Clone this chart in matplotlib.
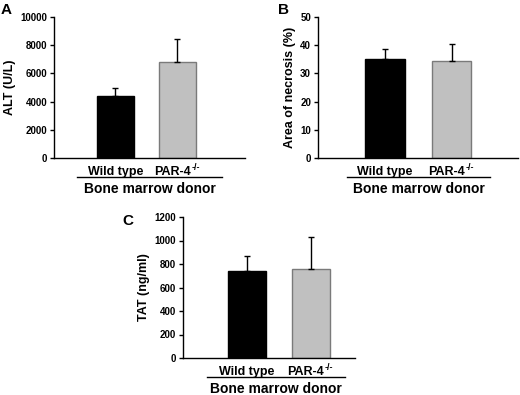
import matplotlib
matplotlib.use('Agg')
from matplotlib import pyplot as plt
from matplotlib.transforms import ScaledTranslation

plt.rcParams['font.family'] = ['Liberation Sans', 'DejaVu Sans']
plt.rcParams['font.weight'] = 'bold'

groups = ['Wild type', 'PAR-4']
group_sup = ['', '-/-']
donor_label = 'Bone marrow donor'

alt_mean = [4400, 6800]
alt_err = [600, 1650]

necrosis_mean = [35.1, 34.5]
necrosis_err = [3.6, 5.9]

tat_mean = [740, 757]
tat_err = [125, 275]

bar_colors = ['#000000', '#c0c0c0']
edge_colors = ['#000000', '#7a7a7a']


def draw_panel(rect, means, errs, ylabel, yticks, xlim, letter, letter_xy, line_x):
    ax = fig.add_axes(rect)
    x = [0, 1]
    ax.bar(x, means, width=0.6, color=bar_colors, edgecolor=edge_colors, linewidth=1)
    ax.errorbar(x, means, yerr=[[0, 0], errs], fmt='none', ecolor='black',
                elinewidth=1, capsize=2, capthick=1)
    ax.set_ylim(yticks[0], yticks[-1])
    ax.set_yticks(yticks)
    ax.set_xlim(*xlim)
    ax.set_xticks([])
    ax.tick_params(axis='y', length=3, width=1, labelsize=7, pad=2)
    ax.spines['top'].set_visible(False)
    ax.spines['right'].set_visible(False)
    ax.spines['left'].set_linewidth(1)
    ax.spines['bottom'].set_linewidth(1)
    ax.set_ylabel(ylabel, fontsize=9, fontweight='bold', labelpad=3)
    trans = ax.get_xaxis_transform()
    for xi, g, s in zip(x, groups, group_sup):
        if s:
            # main text ends right of centre, superscript follows
            shift = ScaledTranslation(9.5 / 72, 0, fig.dpi_scale_trans)
            ax.text(xi, -0.118, g, transform=trans + shift, ha='right', va='baseline',
                    fontsize=9, fontweight='bold')
            ax.text(xi, -0.118, s, transform=trans + shift + ScaledTranslation(0.5 / 72, 3.5 / 72, fig.dpi_scale_trans),
                    ha='left', va='baseline', fontsize=6.5, fontweight='bold')
        else:
            ax.text(xi, -0.118, g, transform=trans, ha='center', va='baseline',
                    fontsize=9, fontweight='bold')
    ax.plot(line_x, [-0.135, -0.135], color='black', lw=1, transform=trans, clip_on=False)
    ax.text(sum(line_x) / 2, -0.22, donor_label, transform=trans, ha='center', va='center',
            fontsize=10, fontweight='bold')
    fig.text(letter_xy[0], letter_xy[1], letter, fontsize=11, fontweight='bold',
             ha='left', va='center')
    return ax


fig = plt.figure(figsize=(5.2, 3.95), dpi=100)

draw_panel([54 / 520, 1 - 158 / 395, 191 / 520, 141 / 395], alt_mean, alt_err,
           'ALT (U/L)', [0, 2000, 4000, 6000, 8000, 10000], (-0.99, 2.09),
           'A', (1 / 520, 1 - 10 / 395), [-0.62, 1.72])
draw_panel([318 / 520, 1 - 158 / 395, 200 / 520, 141 / 395], necrosis_mean, necrosis_err,
           'Area of necrosis (%)', [0, 10, 20, 30, 40, 50], (-1.01, 2.0),
           'B', (278 / 520, 1 - 10 / 395), [-0.57, 1.58])
draw_panel([183 / 520, 1 - 358 / 395, 172 / 520, 141 / 395], tat_mean, tat_err,
           'TAT (ng/ml)', [0, 200, 400, 600, 800, 1000, 1200], (-1.0, 1.69),
           'C', (122 / 520, 1 - 221 / 395), [-0.63, 1.53])

fig.savefig('out.png', dpi=100)
